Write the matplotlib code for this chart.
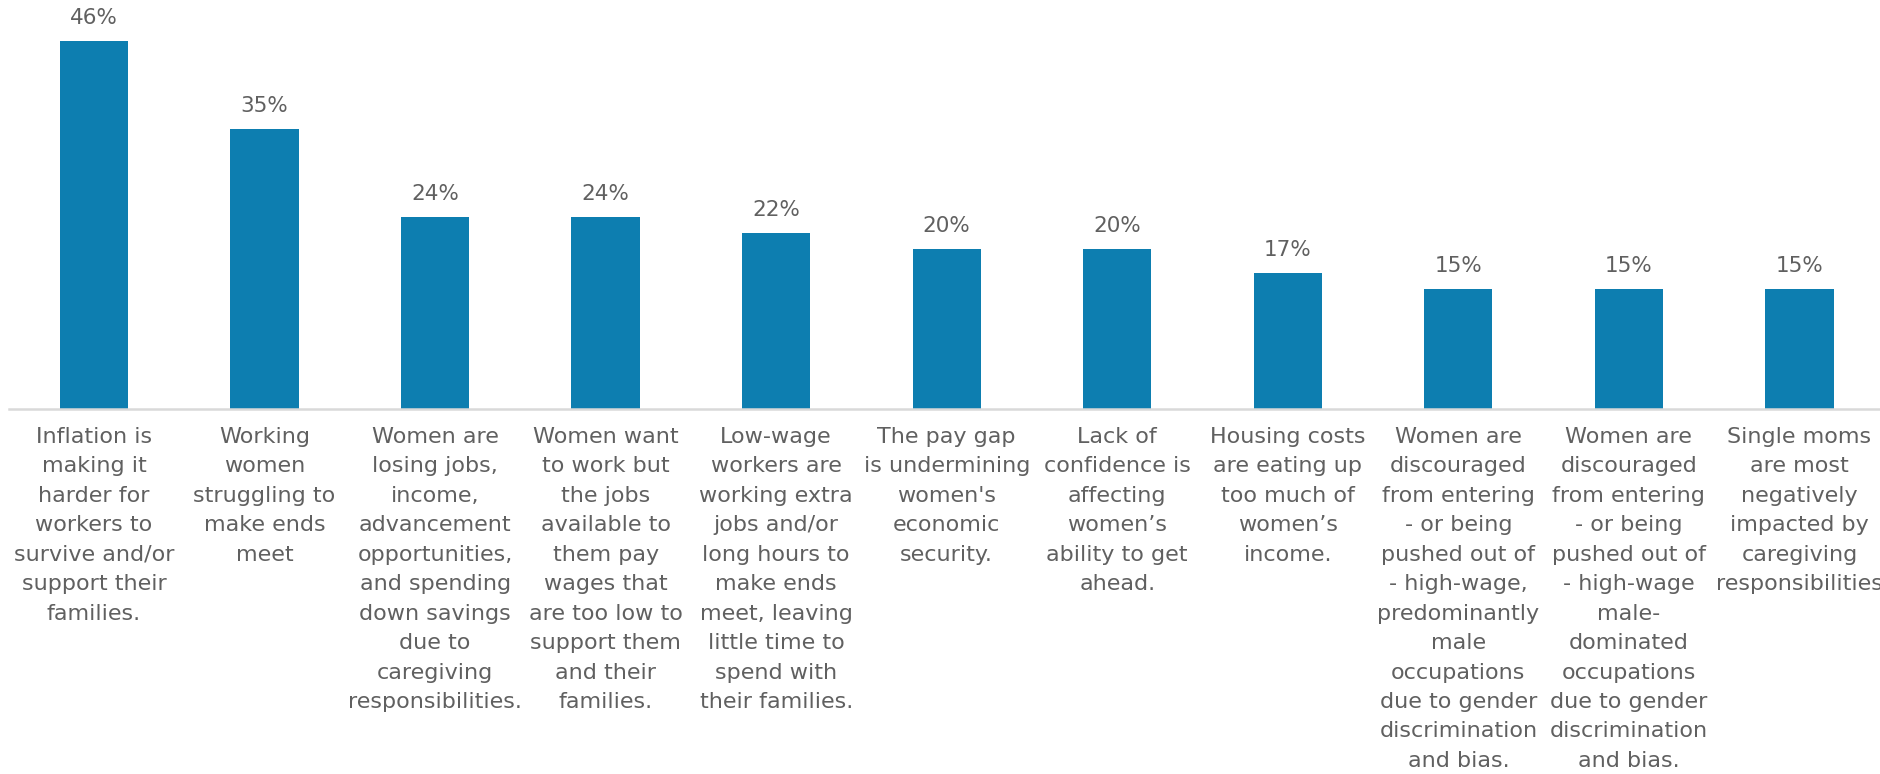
import numpy as np
import matplotlib
matplotlib.use("Agg")
import matplotlib.pyplot as plt

# Survey values (%)
values = [46, 35, 24, 24, 22, 20, 20, 17, 15, 15, 15]
value_labels = ["46%", "35%", "24%", "24%", "22%", "20%", "20%", "17%", "15%", "15%", "15%"]
categories = [
    "Inflation is\nmaking it\nharder for\nworkers to\nsurvive and/or\nsupport their\nfamilies.",
    "Working\nwomen\nstruggling to\nmake ends\nmeet",
    "Women are\nlosing jobs,\nincome,\nadvancement\nopportunities,\nand spending\ndown savings\ndue to\ncaregiving\nresponsibilities.",
    "Women want\nto work but\nthe jobs\navailable to\nthem pay\nwages that\nare too low to\nsupport them\nand their\nfamilies.",
    "Low-wage\nworkers are\nworking extra\njobs and/or\nlong hours to\nmake ends\nmeet, leaving\nlittle time to\nspend with\ntheir families.",
    "The pay gap\nis undermining\nwomen's\neconomic\nsecurity.",
    "Lack of\nconfidence is\naffecting\nwomen\u2019s\nability to get\nahead.",
    "Housing costs\nare eating up\ntoo much of\nwomen\u2019s\nincome.",
    "Women are\ndiscouraged\nfrom entering\n- or being\npushed out of\n- high-wage,\npredominantly\nmale\noccupations\ndue to gender\ndiscrimination\nand bias.",
    "Women are\ndiscouraged\nfrom entering\n- or being\npushed out of\n- high-wage\nmale-\ndominated\noccupations\ndue to gender\ndiscrimination\nand bias.",
    "Single moms\nare most\nnegatively\nimpacted by\ncaregiving\nresponsibilities",
]

bar_color = "#0D7EB0"
text_color = "#606060"

plt.rcParams["font.family"] = ["DejaVu Sans"]

fig = plt.figure(figsize=(18.8, 7.74), dpi=100)
ax = fig.add_axes([8.7 / 1880, (774 - 409) / 774, 1876 / 1880, 400 / 774])

x = np.arange(len(values))
bars = ax.bar(x, values, width=0.4, color=bar_color, zorder=2)

for xi, v, lab in zip(x, values, value_labels):
    ax.annotate(lab, (xi, v), xytext=(0, 9), textcoords="offset points",
                ha="center", va="bottom", fontsize=15.5, color=text_color)

ax.set_xlim(-0.5, len(values) - 0.5)
ax.set_ylim(0, 50)
ax.set_yticks([])
ax.set_xticks(x)
ax.set_xticklabels(categories, fontsize=16, color=text_color, linespacing=1.59)
ax.tick_params(axis="x", length=0, pad=13)

for side in ["top", "left", "right"]:
    ax.spines[side].set_visible(False)
ax.spines["bottom"].set_color("#D9D9D9")
ax.spines["bottom"].set_linewidth(1.8)

fig.savefig("out.png", dpi=100, facecolor="white")
